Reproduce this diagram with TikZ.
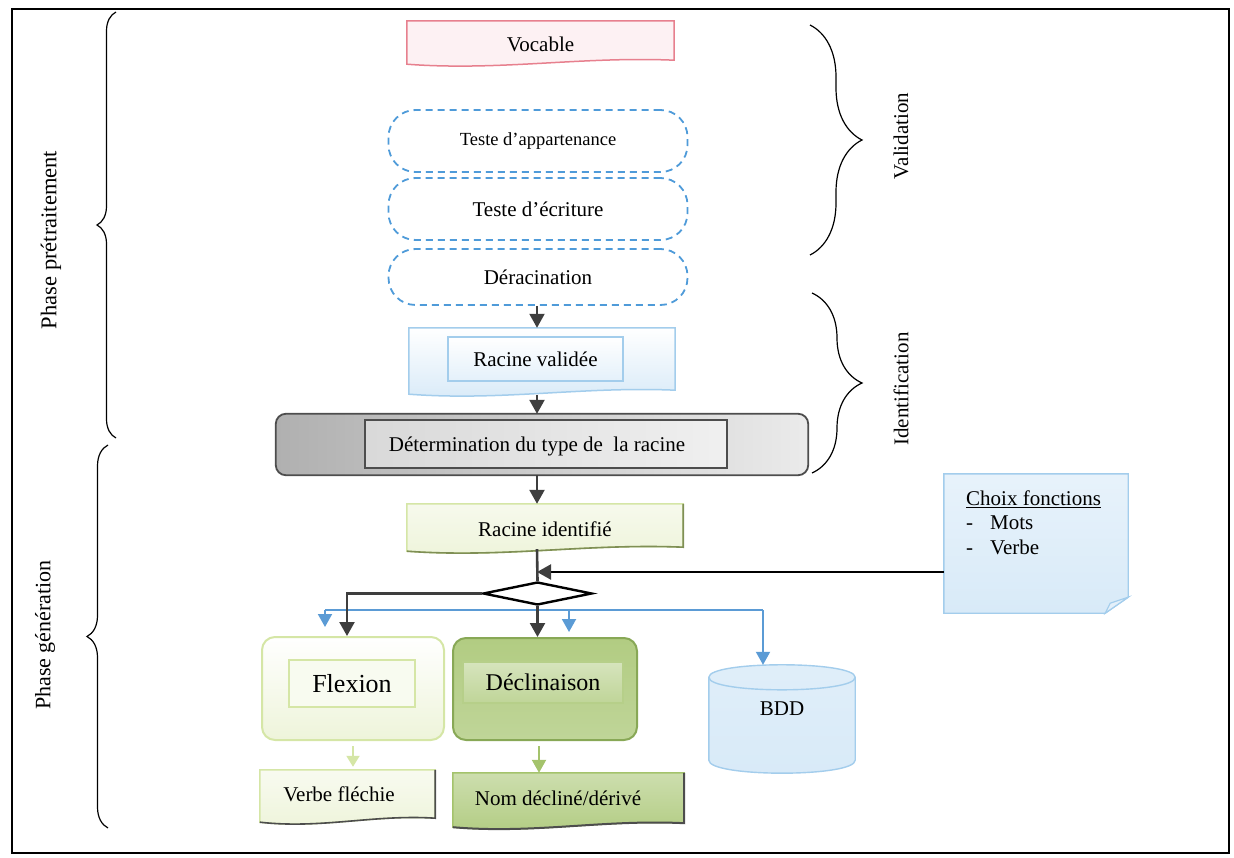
\documentclass[tikz,border=0pt]{standalone}
\usepackage{fontspec}
\setmainfont{Liberation Serif}
\usetikzlibrary{arrows.meta,shapes.geometric,decorations.pathreplacing,calc,backgrounds}

\definecolor{arrowgray}{HTML}{3E3E3E}
\definecolor{dashblue}{HTML}{4F9BD9}
\definecolor{busblue}{HTML}{5B9BD5}
\definecolor{pinkline}{HTML}{E7808E}
\definecolor{pinkfill}{HTML}{FDF1F3}
\definecolor{lblue}{HTML}{A3CDEC}
\definecolor{lbluefill}{HTML}{D8EAF8}
\definecolor{lgreen}{HTML}{D5E6A6}
\definecolor{lgreenfill}{HTML}{EEF4DA}
\definecolor{mgreen}{HTML}{A4C36C}
\definecolor{dgreen}{HTML}{88A856}
\definecolor{olive}{HTML}{7F8F55}
\definecolor{shadowgray}{HTML}{4D4D4D}

% document-like outline with a gently wavy lower edge, drawn around a named node
\newcommand\docshape[3]{%
  \path[#2] (#1.north west) -- (#1.north east) -- ($(#1.south east)+(0,-7)$)
    .. controls ($(#1.south west)!0.65!(#1.south east)+(0,-11)$)
    and ($(#1.south west)!0.35!(#1.south east)+(0,4)$) .. ($(#1.south west)+(0,-3)$) -- cycle;
  \path[#3] (#1.north east) -- ($(#1.south east)+(0,-7)$)
    .. controls ($(#1.south west)!0.65!(#1.south east)+(0,-11)$)
    and ($(#1.south west)!0.35!(#1.south east)+(0,4)$) .. ($(#1.south west)+(0,-3)$);
}

\tikzset{
  txt/.style={font=\fontsize{21}{25}\selectfont, inner sep=0pt, text=black},
  shapebox/.style 2 args={rectangle, draw=none, minimum width=#1, minimum height=#2, inner sep=0pt},
  stadium/.style={rectangle, rounded corners=27pt, draw=dashblue, line width=1.8pt,
    dash pattern=on 7pt off 5pt, fill=white, minimum width=299pt, inner sep=0pt,
    font=\fontsize{21}{25}\selectfont},
  darrow/.style={draw=arrowgray, line width=2.4pt, -{Triangle[length=14pt,width=15pt]}},
  dline/.style={draw=arrowgray, line width=2.6pt},
  karrow/.style={draw=black, line width=2.3pt, -{Triangle[length=14pt,width=15pt,color=arrowgray]}},
  bline/.style={draw=busblue, line width=2.6pt},
  barrow/.style={draw=busblue, line width=2pt, -{Triangle[length=13pt,width=14pt]}},
  garrowa/.style={draw=lgreen, line width=2pt, -{Triangle[length=11pt,width=13pt]}},
  garrowb/.style={draw=mgreen, line width=2.2pt, -{Triangle[length=13pt,width=14pt]}},
  curly/.style={decorate, decoration={brace, amplitude=#1}, draw=black, line width=1.2pt},
}

\begin{document}
\begin{tikzpicture}[x=1pt,y=-1pt]
\useasboundingbox (0,0) rectangle (1234,858);

% outer frame
\draw[line width=1.3pt] (12,9) rectangle (1229,853);

% ---------- nodes ----------
\node[shapebox={267}{46}, txt] (voc) at (540.5,44) {Vocable};

\node[stadium, minimum height=62pt, font=\fontsize{18.5}{22}\selectfont] (app) at (538,141) {Teste d’appartenance};
\node[stadium, minimum height=62pt] (ecr) at (538,209) {Teste d’écriture};
\node[stadium, minimum height=56pt] (der) at (538,277) {Déracination};

\node[shapebox={266}{69}] (valid) at (542,362.5) {};
\node[txt, rectangle, draw=lblue, line width=1.4pt, top color=white, bottom color=lbluefill!70,
      minimum width=175pt, minimum height=44pt] (validin) at (535.5,359) {Racine validée};

\node[shapebox={532}{61}] (determ) at (542,444.5) {};
\node[rectangle, draw=shadowgray, line width=2.2pt, left color=gray!30, right color=gray!12,
      minimum width=362pt, minimum height=48pt] (determin) at (546,444) {};
\node[txt] (determtxt) at (537,446) {Détermination du type de\ \ la racine};

\node[shapebox={276}{50}, txt] (ident) at (545,529) {Racine identifié};

\node[diamond, draw=black, line width=2.4pt, fill=white, minimum width=109pt,
      minimum height=23pt, inner sep=0pt] (dec) at (537.5,593.5) {};

\node[rectangle, rounded corners=13pt, draw=lgreen, line width=2pt, top color=white,
      bottom color=lgreenfill, minimum width=182pt, minimum height=103pt] (flex) at (353,688.5) {};
\node[rectangle, draw=lgreen, line width=1.5pt, fill=white!60!lgreenfill, inner sep=0pt,
      minimum width=126pt, minimum height=47pt, font=\fontsize{26}{30}\selectfont] (flexin) at (352,683.5) {Flexion};

\node[rectangle, rounded corners=13pt, draw=dgreen, line width=2pt, top color=mgreen!85,
      bottom color=mgreen!70, minimum width=184pt, minimum height=102pt] (decl) at (545,689) {};
\node[rectangle, draw=mgreen!80, line width=1.5pt, top color=mgreen!45, bottom color=mgreen!70,
      inner sep=0pt, minimum width=160pt, minimum height=41pt,
      font=\fontsize{24}{28}\selectfont] (declin) at (543,682.5) {Déclinaison};

\node[shapebox={175}{55}] (verbe) at (347.5,797.5) {};
\node[txt] (verbetxt) at (339,794) {Verbe fléchie};

\node[shapebox={231}{57}] (nom) at (568.5,801.5) {};
\node[txt] (nomtxt) at (558,798) {Nom décliné/dérivé};

\node[shapebox={146}{108}] (bdd) at (782,719) {};
\node[txt] (bddtxt) at (782,709) {BDD};

\node[shapebox={184}{139}] (choix) at (1036,543.5) {};
\node[txt, font=\fontsize{21}{24.5}\selectfont, anchor=north west, align=left] (choixtxt) at (966,490.5)
  {\underline{Choix fonctions}\\\makebox[24pt][l]{-}Mots\\\makebox[24pt][l]{-}Verbe};

% ---------- side labels and braces ----------
\draw[curly=19] (116,438) -- (116,12);
\draw[curly=21] (108,828) -- (108,445);
\draw[curly=52] (810,25) -- (810,255);
\draw[curly=50] (812,293) -- (812,473);

\node[txt, rotate=90, font=\fontsize{22.5}{26}\selectfont] (lblpre) at (51,240) {Phase prétraitement};
\node[txt, rotate=90, font=\fontsize{22}{26}\selectfont] (lblgen) at (45,635) {Phase génération};
\node[txt, rotate=90] (lblval) at (901,136) {Validation};
\node[txt, rotate=90] (lblid) at (901,389) {Identification};

% ---------- shapes behind the texts ----------
\begin{scope}[on background layer]
  \docshape{voc}{draw=pinkline, line width=1.5pt, fill=pinkfill}{draw=none}
  \docshape{valid}{draw=lblue, line width=1.5pt, top color=white, bottom color=lbluefill}{draw=none}
  \path[draw=shadowgray, line width=1.8pt, rounded corners=10pt, left color=gray!62, right color=gray!16]
    (determ.north west) rectangle (determ.south east);
  \docshape{ident}{draw=lgreen, line width=1.5pt, top color=white!50!lgreenfill, bottom color=lgreenfill}{draw=olive, line width=1.6pt}
  \docshape{verbe}{draw=lgreen, line width=1.5pt, top color=white!60!lgreenfill, bottom color=lgreenfill}{draw=shadowgray, line width=1.6pt}
  \docshape{nom}{draw=mgreen, line width=1.5pt, top color=mgreen!55, bottom color=mgreen!85}{draw=shadowgray, line width=2pt}
  % database cylinder
  \path[draw=lblue, line width=1.4pt, top color=lbluefill!80, bottom color=lbluefill]
    ($(bdd.north west)+(0,12.5)$) -- ($(bdd.south west)+(0,-13)$)
    .. controls ($(bdd.south west)+(0,4.3)$) and ($(bdd.south east)+(0,4.3)$) .. ($(bdd.south east)+(0,-13)$)
    -- ($(bdd.north east)+(0,12.5)$)
    .. controls ($(bdd.north east)+(0,-4.2)$) and ($(bdd.north west)+(0,-4.2)$) .. cycle;
  \draw[lblue, line width=1.4pt]
    ($(bdd.north west)+(0,12.5)$)
    .. controls ($(bdd.north west)+(0,29.2)$) and ($(bdd.north east)+(0,29.2)$) .. ($(bdd.north east)+(0,12.5)$);
  % note with folded corner
  \path[draw=lblue, line width=1.4pt, top color=white!40!lbluefill, bottom color=lbluefill]
    (choix.north west) -- (choix.north east) -- ($(choix.south east)+(0,-16)$)
    -- ($(choix.south east)+(-23,0)$) -- (choix.south west) -- cycle;
  \path[draw=lblue, line width=1.2pt, fill=lbluefill!70!white]
    ($(choix.south east)+(0,-16)$) -- ($(choix.south east)+(-18,-10)$) -- ($(choix.south east)+(-23,0)$) -- cycle;
\end{scope}

% ---------- connectors ----------
\coordinate (axis) at (537,0);
\coordinate (junc) at (537,572);
\coordinate (busL) at (325,610);
\coordinate (busM) at (569,610);
\coordinate (busR) at (763,610);
\coordinate (flexentry) at ([xshift=-6pt]flex.north);
\coordinate (declout) at ([xshift=-6pt]decl.south);

\draw[darrow, line width=2pt] (der.south -| axis) -- (valid.north -| axis);
\draw[darrow] ([yshift=2pt]valid.south -| axis) -- (determ.north -| axis);
\draw[darrow] (determ.south -| axis) -- (ident.north -| axis);
\draw[dline] ([yshift=5pt]ident.south -| axis) -- (dec.north);

\draw[bline] (busL) -- (busR);
\draw[barrow, shorten >=9pt] (busL) -- (busL |- flex.north);
\draw[barrow, shorten >=5pt] (busM) -- (busM |- decl.north);
\draw[barrow] (busR) -- (busR |- bdd.north);

\draw[karrow] (choix.west |- junc) -- (junc);
\draw[darrow] (dec.west) -| (flexentry);
\draw[darrow] (dec.south) -- (dec.south |- decl.north);

\draw[garrowa, shorten <=5pt, shorten >=3pt] (flex.south) -- (flex.south |- verbe.north);
\draw[garrowb, shorten <=5pt] (declout) -- (declout |- nom.north);
\end{tikzpicture}
\end{document}
